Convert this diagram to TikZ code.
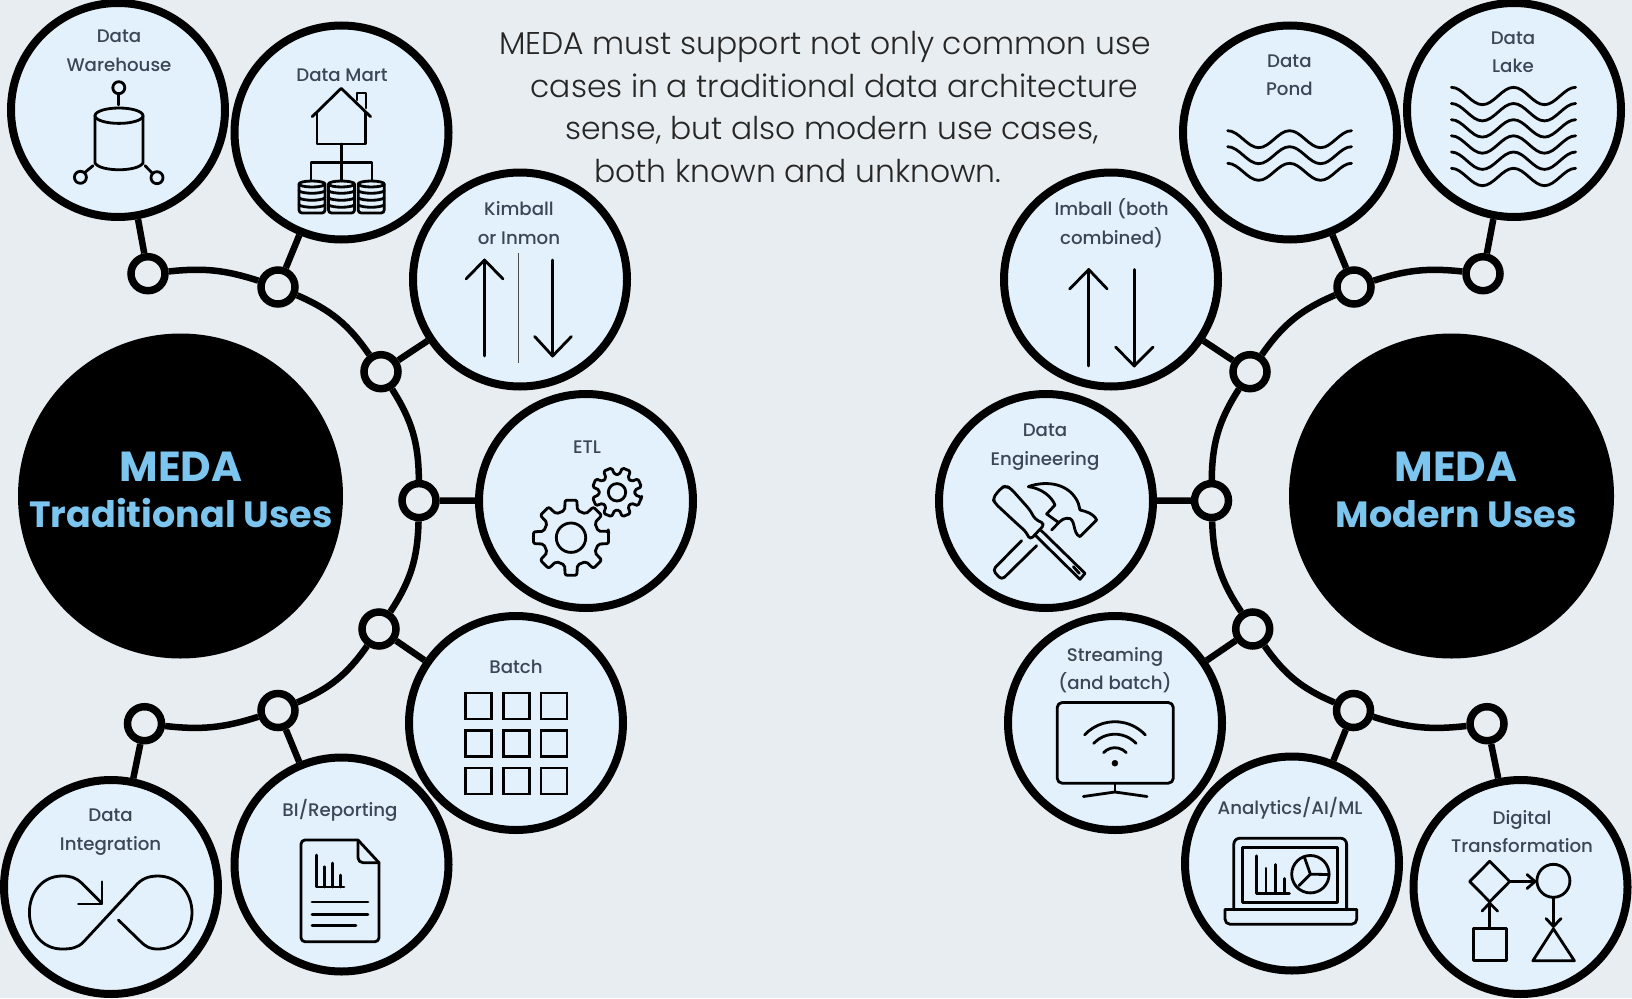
\documentclass[tikz,border=0pt]{standalone}
\usepackage{fontspec}
\setmainfont{Poppins Medium}
\newfontfamily\headfont{Poppins Light}
\newfontfamily\hubfont{Poppins Bold}
\usetikzlibrary{positioning}
\usetikzlibrary{calc}

\definecolor{pagebg}{HTML}{E7EDF0}
\definecolor{bubblebg}{HTML}{E2F1FB}
\definecolor{labelink}{HTML}{3B4656}
\definecolor{hubink}{HTML}{7CC5EF}

\tikzset{
  bubble/.style={circle, draw=black, line width=8pt, fill=bubblebg, minimum size=214pt, inner sep=0pt},
  hub/.style={circle, fill=black, minimum size=325pt, inner sep=0pt},
  joint/.style={circle, draw=black, line width=7.5pt, fill=pagebg, minimum size=34pt, inner sep=0pt},
  link/.style={line width=6.5pt, draw=black},
  lbl/.style={align=center, text=labelink, inner sep=0pt, font=\fontsize{18.2}{28.5}\selectfont},
  hubtxt/.style={align=center, text=hubink, inner sep=0pt, font=\hubfont\fontsize{36.5}{46}\selectfont},
  headtxt/.style={anchor=base, text=black!85, inner sep=0pt, font=\headfont\fontsize{31.4}{40}\selectfont},
  icon/.style={line width=2.8pt, line join=round, line cap=round, draw=black},
}

\begin{document}
\begin{tikzpicture}[x=1pt, y=-1pt]
  \useasboundingbox[fill=pagebg] (0,0) rectangle (1632,998);

  % Hubs
  \node[hub] (hubold) at (180.5,496) {};
  \node[hub] (hubnew) at (1451.5,496) {};
  \node[hubtxt] (hubtxtold) at (181,489.5) {{\fontsize{42}{46}\selectfont MEDA}\\Traditional Uses};
  \node[hubtxt] (hubtxtnew) at (1456,489.5) {{\fontsize{42}{46}\selectfont MEDA}\\Modern Uses};

  % Heading
  \node[headtxt] (head1) at (825,55) {MEDA must support not only common use};
  \node[headtxt] (head2) at (834.5,97) {cases in a traditional data architecture};
  \node[headtxt] (head3) at (832,139) {sense, but also modern use cases,};
  \node[headtxt] (head4) at (798,182) {both known and unknown.};

  % Bubbles, traditional side
  \node[bubble] (warehouse) at (118,110) {};
  \node[bubble] (mart) at (341.5,132.5) {};
  \node[bubble] (kimball) at (520,279.5) {};
  \node[bubble] (etl) at (586,501) {};
  \node[bubble] (batch) at (516,723) {};
  \node[bubble] (bi) at (341.5,864.5) {};
  \node[bubble] (integration) at (111,887) {};

  % Bubbles, modern side
  \node[bubble] (lake) at (1514,110) {};
  \node[bubble] (pond) at (1290,132.5) {};
  \node[bubble] (imball) at (1111,279.5) {};
  \node[bubble] (engineering) at (1046,501) {};
  \node[bubble] (streaming) at (1115,723) {};
  \node[bubble] (analytics) at (1292,863.5) {};
  \node[bubble] (digital) at (1520.5,887) {};

  % Joints
  \node[joint] (a1) at (148,273.7) {};
  \node[joint] (a2) at (278,287) {};
  \node[joint] (a3) at (381,371.7) {};
  \node[joint] (a4) at (419,500.6) {};
  \node[joint] (a5) at (379,629) {};
  \node[joint] (a6) at (278,710.5) {};
  \node[joint] (a7) at (144.5,723.7) {};
  \node[joint] (b1) at (1483,273.7) {};
  \node[joint] (b2) at (1354,287) {};
  \node[joint] (b3) at (1250,371.7) {};
  \node[joint] (b4) at (1211.5,500.6) {};
  \node[joint] (b5) at (1252.7,629) {};
  \node[joint] (b6) at (1353.5,710.5) {};
  \node[joint] (b7) at (1487,723.7) {};

  % Trunks
  \draw[link, bend left=12] (a1) to[] (a2);
  \draw[link, bend left=16] (a2) to[] (a3);
  \draw[link, bend left=16] (a3) to[] (a4);
  \draw[link, bend left=16] (a4) to[] (a5);
  \draw[link, bend left=16] (a5) to[] (a6);
  \draw[link, bend left=12] (a6) to[] (a7);
  \draw[link, bend right=12] (b1) to[] (b2);
  \draw[link, bend right=16] (b2) to[] (b3);
  \draw[link, bend right=16] (b3) to[] (b4);
  \draw[link, bend right=16] (b4) to[] (b5);
  \draw[link, bend right=16] (b5) to[] (b6);
  \draw[link, bend right=12] (b6) to[] (b7);

  % Stubs
  \draw[link] (a1) -- (warehouse);
  \draw[link] (a2) -- (mart);
  \draw[link] (a3) -- (kimball);
  \draw[link] (a4) -- (etl);
  \draw[link] (a5) -- (batch);
  \draw[link] (a6) -- (bi);
  \draw[link] (a7) -- (integration);
  \draw[link] (b1) -- (lake);
  \draw[link] (b2) -- (pond);
  \draw[link] (b3) -- (imball);
  \draw[link] (b4) -- (engineering);
  \draw[link] (b5) -- (streaming);
  \draw[link] (b6) -- (analytics);
  \draw[link] (b7) -- (digital);

  % Labels
  \node[lbl] (warehousetxt) at (119,51) {Data\\Warehouse};
  \node[lbl] (marttxt) at (342,75) {Data Mart};
  \node[lbl] (kimballtxt) at (519,223) {Kimball\\or Inmon};
  \node[lbl] (etltxt) at (587,447) {ETL};
  \node[lbl] (batchtxt) at (516,667) {Batch};
  \node[lbl] (bitxt) at (340,810) {BI/Reporting};
  \node[lbl] (integrationtxt) at (110.6,832) {Data\\Integration};
  \node[lbl] (laketxt) at (1513,52.5) {Data\\Lake};
  \node[lbl] (pondtxt) at (1289.4,75.5) {Data\\Pond};
  \node[lbl] (imballtxt) at (1111.6,223) {Imball (both\\combined)};
  \node[lbl] (engineeringtxt) at (1045,447) {Data\\Engineering};
  \node[lbl] (streamingtxt) at (1115,670) {Streaming\\(and batch)};
  \node[lbl] (analyticstxt) at (1290,808) {Analytics/AI/ML};
  \node[lbl] (digitaltxt) at (1522,831.5) {Digital\\Transformation};

  % Warehouse icon
  \draw[icon] (118.8,87.7) circle (6);
  \draw[icon] (118.8,93.7) -- (118.8,105);
  \draw[icon] (119,115.7) ellipse (24 and 7.7);
  \draw[icon] (95,115.7) -- (95,163) .. controls (100,172) and (138,172) .. (143,163) -- (143,115.7);
  \draw[icon] (80.4,177.3) circle (6);
  \draw[icon] (157,177.7) circle (6);
  \draw[icon] (93,165.7) -- (85,172.3);
  \draw[icon] (145,165.7) -- (152.5,173.3);

  % Mart icon
  \draw[icon] (312.2,116.7) -- (341.2,88.3) -- (370.6,116.7);
  \draw[icon] (317,112) -- (317,144) -- (365.7,144) -- (365.7,112);
  \draw[icon] (357,100) -- (357,93) -- (366,93) -- (366,108);
  \draw[icon] (341.2,144) -- (341.2,181);
  \draw[icon] (311,181) -- (311,162.3) -- (372,162.3) -- (372,181);
  \foreach \cx in {312,341.5,371.2} {
    \draw[icon, fill=bubblebg, rounded corners=3pt] (\cx-13,184) -- (\cx-13,213) -- (\cx+13,213) -- (\cx+13,184);
    \draw[icon] (\cx,184) ellipse (13 and 3);
    \draw[icon] (\cx-13,191) .. controls (\cx-8,194) and (\cx+8,194) .. (\cx+13,191);
    \draw[icon] (\cx-13,198) .. controls (\cx-8,201) and (\cx+8,201) .. (\cx+13,198);
    \draw[icon] (\cx-13,205) .. controls (\cx-8,208) and (\cx+8,208) .. (\cx+13,205);
  }

  % Kimball arrows
  \draw[icon] (484.5,356) -- (484.5,260);
  \draw[icon] (466,279) -- (484.5,260) -- (503,279);
  \draw[black!70, line width=1pt] (518.8,253) -- (518.8,363);
  \draw[icon] (552.6,260) -- (552.6,356);
  \draw[icon] (534.7,336.5) -- (552.6,356) -- (571.4,336.5);

  % Imball arrows
  \draw[icon] (1088.7,366) -- (1088.7,269.5);
  \draw[icon] (1069.7,289) -- (1088.7,269.5) -- (1107.2,289);
  \draw[icon] (1134.2,269.5) -- (1134.2,366);
  \draw[icon] (1115.7,347) -- (1134.2,366) -- (1153,347);

  % Gears
  \draw[icon, shift={(571,537.7)}, rounded corners=2pt] (-10:38) \foreach \a in {0,45,...,315} {
    -- (\a-9:38) -- (\a+9:38) -- (\a+13:28) -- (\a+32:28) } -- cycle;
  \draw[icon] (571,537.7) circle (14.7);
  \draw[icon, shift={(617,492.3)}, rounded corners=1.5pt] (12:25) \foreach \a in {22.5,67.5,...,337.5} {
    -- (\a-10:25) -- (\a+10:25) -- (\a+15:18) -- (\a+30:18) } -- cycle;
  \draw[icon] (617,492.3) circle (8.7);

  % Batch grid
  \foreach \cx in {465.5,503.5,541} {
    \foreach \cy in {693,730.5,768} {
      \draw[icon, line join=miter] (\cx,\cy) rectangle (\cx+26,\cy+26);
    }
  }

  % Report icon
  \begin{scope}[shift={(0,1)}]
    \draw[icon, rounded corners=4pt] (358,839) -- (301,839) -- (301,940.7) -- (379,940.7) -- (379,861.7);
    \draw[icon] (358,839) -- (379,861.7);
    \draw[icon, rounded corners=5pt] (358,839) -- (358,861.7) -- (379,861.7);
    \draw[icon] (316.7,854) -- (316.7,886) -- (344,886);
    \draw[icon] (324.5,865.7) -- (324.5,886);
    \draw[icon] (332.6,862) -- (332.6,886);
    \draw[icon] (340.8,874) -- (340.8,886);
    \draw[icon] (312,901) -- (368,901);
    \draw[icon] (312,913.3) -- (368,913.3);
    \draw[icon] (312,924.3) -- (356,924.3);
  \end{scope}

  % Infinity icon
  \draw[icon] (102,903.3) -- (81.6,883) .. controls (75,877) and (70,876) .. (62,876)
    .. controls (42,876) and (29.4,893) .. (29.4,912.5) .. controls (29.4,932) and (42,949) .. (62,949)
    .. controls (71,949) and (78,948) .. (83.7,941.7) -- (134.7,886.7) .. controls (141,879) and (148,876) .. (158,876)
    .. controls (178,876) and (192,893) .. (192,912.5) .. controls (192,932) and (178,949) .. (158,949)
    .. controls (150,949) and (146,947) .. (140,941) -- (118.4,920);
  \draw[icon] (102,881.7) -- (102,904) -- (78.4,904);

  % Waves
  \foreach \wy in {130.7,146.7,163.3} {
    \draw[icon] (1227.7,\wy) cos (1243.2,\wy+8.5) sin (1258.7,\wy+17) cos (1274.1,\wy+8.5) sin (1289.6,\wy)
      cos (1305.1,\wy+8.5) sin (1320.6,\wy+17) cos (1336,\wy+8.5) sin (1351.5,\wy);
  }
  \foreach \wy in {87.3,103.5,119.7,135.8,152,168.3} {
    \draw[icon] (1451.4,\wy) cos (1466.9,\wy+8.7) sin (1482.4,\wy+17.4) cos (1498,\wy+8.7) sin (1513.5,\wy)
      cos (1529,\wy+8.7) sin (1544.5,\wy+17.4) cos (1560,\wy+8.7) sin (1575.6,\wy);
  }

  % Hammer and screwdriver
  \begin{scope}[shift={(920,370)}, x=0.3333pt, y=-0.3333pt]
    \draw[icon, rounded corners=4pt] (245,352) -- (258,348) -- (272,355) -- (330,420) -- (345,448) -- (375,462)
      -- (330,510) -- (318,485) -- (295,465) -- (225,400) -- (218,385) -- cycle;
    \draw[icon] (362,480) -- (495,610) -- (480,628) -- (345,495);
    \draw[icon] (460,590) -- (478,610);
    \draw[icon] (325,350) .. controls (380,330) and (450,340) .. (475,400) -- (480,420)
      .. controls (500,425) and (520,430) .. (530,450) -- (480,500) .. controls (455,490) and (470,440) .. (440,445)
      .. controls (425,445) and (415,460) .. (395,480);
    \draw[icon] (325,350) .. controls (365,355) and (395,380) .. (405,405) -- (380,432) -- (415,457);
    \draw[icon, rounded corners=4pt] (305,512) -- (218,600) -- (245,630) -- (350,527);
  \end{scope}

  % Monitor with wifi
  \begin{scope}[shift={(0,1.5)}]
    \draw[icon, rounded corners=5pt] (1057.2,701) rectangle (1173.3,781.7);
    \draw[icon] (1114.9,781.7) -- (1114.9,790.5);
    \draw[icon] (1083.4,795) -- (1114.9,790.5) -- (1147,795);
    \draw[fill=black] (1114.9,761.7) circle (3);
    \foreach \r in {15.5,29,41.5} {
      \draw[icon] ($(1114.9,761.7)+(-137:\r)$) arc[start angle=-137, end angle=-43, radius=\r];
    }
  \end{scope}

  % Laptop icon
  \begin{scope}[shift={(0,1.5)}]
    \draw[icon, rounded corners=6pt] (1233.8,908.3) -- (1233.8,836.7) -- (1346.6,836.7) -- (1346.6,908.3);
    \draw[icon] (1242.6,846) rectangle (1337.8,900.7);
    \draw[icon, rounded corners=5pt] (1225,908.3) -- (1225,922.7) -- (1356.7,922.7) -- (1356.7,908.3);
    \draw[icon] (1225,908.3) -- (1356.7,908.3);
    \draw[icon] (1256.3,854.3) -- (1256.3,891.7) -- (1289.4,891.7);
    \draw[icon] (1266,866.7) -- (1266,891.7);
    \draw[icon] (1275.7,863) -- (1275.7,891.7);
    \draw[icon] (1284.6,877) -- (1284.6,891.7);
    \draw[icon] (1310.4,872.7) circle (18.7);
    \draw[icon] (1329,873) -- (1310.4,872.7) -- (1304.3,855.5);
    \draw[icon] (1310.4,872.7) -- (1299,884);
  \end{scope}

  % Flow chart icon
  \begin{scope}[shift={(0,1.5)}]
    \draw[icon] (1469.7,880) -- (1489.7,859.7) -- (1509.7,880) -- (1489.7,900.3) -- cycle;
    \draw[icon] (1553.4,879.3) circle (16.5);
    \draw[icon] (1509.9,880) -- (1535,880);
    \draw[icon] (1527,873) -- (1535,880) -- (1527,887);
    \draw[icon] (1553.4,895.7) -- (1553.4,925);
    \draw[icon] (1546,917) -- (1553.4,925) -- (1561,917);
    \draw[icon] (1553.4,927.3) -- (1574.4,959.3) -- (1532.8,959.3) -- cycle;
    \draw[icon] (1473.6,927.3) rectangle (1506.6,959.3);
    \draw[icon] (1489.7,927.3) -- (1489.7,901.7);
    \draw[icon] (1482,909.5) -- (1489.7,901.7) -- (1497.5,909.5);
  \end{scope}
\end{tikzpicture}
\end{document}
